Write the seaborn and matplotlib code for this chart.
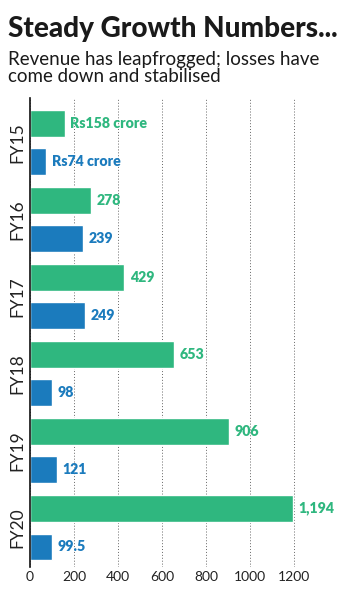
import matplotlib
matplotlib.use("Agg")
import matplotlib.pyplot as plt
import seaborn as sns
import pandas as pd

years = ["FY15", "FY16", "FY17", "FY18", "FY19", "FY20"]
revenue = [158, 278, 429, 653, 906, 1194]
losses = [74, 239, 249, 98, 121, 99.5]
revenue_labels = ["Rs158 crore", "278", "429", "653", "906", "1,194"]
loss_labels = ["Rs74 crore", "239", "249", "98", "121", "99.5"]
x_ticks = [0, 200, 400, 600, 800, 1000, 1200]

title = "Steady Growth Numbers..."
subtitle_lines = ["Revenue has leapfrogged; losses have", "come down and stabilised"]

green = "#2fb77f"
blue = "#1b7bbd"

sns.set_theme(style="white")
plt.rcParams["font.family"] = ["Lato", "DejaVu Sans"]

df = pd.DataFrame({
    "year": years * 2,
    "metric": ["Revenue"] * len(years) + ["Losses"] * len(years),
    "value": revenue + losses,
})

fig = plt.figure(figsize=(3.5, 6), dpi=100)
ax = fig.add_axes([30/350, 1 - 567/600, (316-30)/350, (567-98)/600])

sns.barplot(data=df, y="year", x="value", hue="metric", orient="h",
            palette={"Revenue": green, "Losses": blue}, width=1.0, gap=0.3,
            dodge=True, legend=False, ax=ax, saturation=1)

for container, labels, col in zip(ax.containers, [revenue_labels, loss_labels], [green, blue]):
    ax.bar_label(container, labels=labels, padding=4, color=col,
                 fontsize=10.2, fontweight="heavy")

ax.set_xlim(0, 1300)
ax.set_ylim(5.51, -0.58)
ax.set_xticks(x_ticks)
ax.set_xticklabels([str(t) for t in x_ticks], fontsize=10, color="#222222")
ax.set_yticks(range(len(years)))
ax.set_yticklabels(years, rotation=90, va="center", fontsize=12.5, color="#222222")
ax.tick_params(axis="both", length=0, pad=3)
ax.set_xlabel("")
ax.set_ylabel("")
ax.xaxis.grid(True, linestyle=(0, (1, 2)), color="#666666", linewidth=0.7)
ax.set_axisbelow(True)
for s in ["top", "right", "bottom"]:
    ax.spines[s].set_visible(False)
ax.spines["left"].set_color("#111111")
ax.spines["left"].set_linewidth(1.2)

fig.text(8/350, 1 - 37/600, title, fontsize=20.1, fontweight="black",
         color="#1a1a1a", va="baseline", ha="left")
for k, line in enumerate(subtitle_lines):
    fig.text(8/350, 1 - (65 + 17 * k)/600, line, fontsize=13.5, color="#1a1a1a",
             va="baseline", ha="left")

fig.savefig("out.png", dpi=100)
